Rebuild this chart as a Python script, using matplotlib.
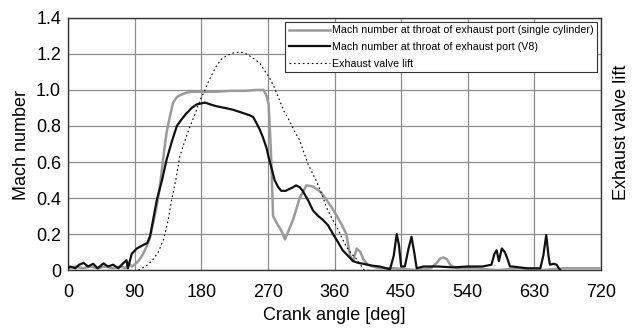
import matplotlib
matplotlib.use("Agg")
import matplotlib.pyplot as plt

plt.rcParams['font.family'] = ['Liberation Sans', 'DejaVu Sans']

# Single cylinder Mach number
single_deg = [0, 10, 20, 30, 40, 50, 60, 70, 78, 82, 86, 90, 95, 100, 105, 110, 115, 120, 124, 128, 133, 138, 142, 147, 151, 160, 169, 180, 200, 220, 240, 255, 264, 268, 271, 274, 277, 282, 288, 293, 298, 304, 313, 322, 330, 336, 342, 349, 356, 363, 370, 376, 381, 385, 390, 395, 399, 405, 412, 420, 440, 470, 490, 498, 503, 507, 512, 516, 525, 550, 580, 610, 640, 670, 700, 720]
single_val = [0.01, 0.02, 0.01, 0.02, 0.01, 0.02, 0.01, 0.02, 0.01, 0.04, 0.02, 0.03, 0.05, 0.08, 0.12, 0.17, 0.26, 0.36, 0.46, 0.6, 0.76, 0.86, 0.93, 0.96, 0.97, 0.985, 0.99, 0.99, 0.99, 0.995, 0.995, 1.0, 1.0, 0.97, 0.92, 0.67, 0.30, 0.26, 0.22, 0.17, 0.22, 0.28, 0.40, 0.47, 0.465, 0.45, 0.43, 0.39, 0.35, 0.30, 0.25, 0.2, 0.08, 0.05, 0.12, 0.1, 0.06, 0.03, 0.02, 0.01, 0.01, 0.0, 0.01, 0.04, 0.065, 0.07, 0.06, 0.03, 0.01, 0.01, 0.0, 0.01, 0.0, 0.01, 0.01, 0.01]

# V8 Mach number
v8_deg = [0, 3, 10, 15, 21, 27, 34, 40, 48, 54, 61, 68, 75, 79, 81, 86, 93, 102, 107, 111, 115, 120, 127, 133, 140, 147, 154, 160, 167, 174, 180, 185, 192, 200, 212, 223, 234, 245, 250, 254, 259, 263, 268, 272, 276, 279, 284, 288, 294, 299, 304, 308, 313, 317, 324, 331, 338, 344, 351, 358, 364, 371, 378, 385, 392, 399, 410, 421, 430, 435, 440, 444, 447, 450, 455, 460, 464, 468, 471, 480, 500, 520, 540, 560, 572, 576, 579, 582, 586, 590, 593, 597, 600, 620, 638, 642, 646, 649, 651, 656, 660, 663, 665]
v8_val = [0.01, 0.02, 0.01, 0.03, 0.04, 0.02, 0.035, 0.01, 0.037, 0.02, 0.03, 0.01, 0.04, 0.055, 0.01, 0.09, 0.12, 0.14, 0.15, 0.19, 0.28, 0.39, 0.5, 0.61, 0.71, 0.8, 0.84, 0.87, 0.9, 0.92, 0.925, 0.93, 0.92, 0.91, 0.9, 0.89, 0.875, 0.86, 0.85, 0.82, 0.78, 0.74, 0.68, 0.61, 0.55, 0.5, 0.46, 0.44, 0.44, 0.45, 0.46, 0.47, 0.46, 0.44, 0.39, 0.33, 0.3, 0.28, 0.25, 0.2, 0.16, 0.11, 0.08, 0.05, 0.04, 0.035, 0.025, 0.02, 0.01, 0.005, 0.08, 0.2, 0.14, 0.02, 0.02, 0.12, 0.185, 0.09, 0.01, 0.02, 0.02, 0.015, 0.02, 0.02, 0.03, 0.09, 0.11, 0.05, 0.12, 0.1, 0.07, 0.02, 0.02, 0.01, 0.01, 0.08, 0.195, 0.08, 0.03, 0.035, 0.03, 0.01, 0.0]

# Exhaust valve lift (drawn on the Mach-number scale)
lift_deg = [95, 100, 108, 115, 122, 129, 135, 140, 146, 151, 158, 165, 172, 178, 184, 189, 195, 200, 207, 214, 223, 232, 239, 245, 252, 259, 265, 272, 279, 286, 292, 299, 306, 313, 318, 324, 330, 336, 343, 349, 356, 363, 370, 376, 383, 390, 395, 400]
lift_val = [0.0, 0.01, 0.03, 0.06, 0.1, 0.17, 0.27, 0.39, 0.51, 0.63, 0.72, 0.8, 0.87, 0.94, 0.99, 1.04, 1.09, 1.13, 1.17, 1.19, 1.205, 1.21, 1.205, 1.19, 1.17, 1.15, 1.11, 1.07, 1.01, 0.94, 0.88, 0.83, 0.77, 0.72, 0.66, 0.59, 0.54, 0.49, 0.42, 0.35, 0.29, 0.24, 0.18, 0.13, 0.09, 0.06, 0.03, 0.0]

x_ticks = [0, 90, 180, 270, 360, 450, 540, 630, 720]
y_ticks = [0, 0.2, 0.4, 0.6, 0.8, 1.0, 1.2, 1.4]
y_labels = ['0', '0.2', '0.4', '0.6', '0.8', '1.0', '1.2', '1.4']

FS = 13

fig = plt.figure(figsize=(6.32, 3.31), dpi=100)
ax = fig.add_axes([0.1076, 0.184, 0.8434, 0.762])

ax.plot(single_deg, single_val, color='#9a9a9a', lw=1.8,
        label='Mach number at throat of exhaust port (single cylinder)', zorder=3)
ax.plot(v8_deg, v8_val, color='#111111', lw=1.6,
        label='Mach number at throat of exhaust port (V8)', zorder=4)
ax.plot(lift_deg, lift_val, color='black', lw=0.8, ls=(0, (1.5, 2.5)),
        label='Exhaust valve lift', zorder=5)

ax.set_xlim(0, 720)
ax.set_ylim(0, 1.4)
ax.set_xticks(x_ticks)
ax.set_yticks(y_ticks)
ax.set_yticklabels(y_labels)
ax.tick_params(labelsize=FS, length=0)
ax.tick_params(axis='x', pad=10)
ax.tick_params(axis='y', pad=5)
ax.grid(True, color='#8c8c8c', lw=0.9)
ax.set_axisbelow(True)
for s in ax.spines.values():
    s.set_color('#333333')
    s.set_linewidth(1.0)

ax.set_xlabel('Crank angle [deg]', fontsize=FS, labelpad=4)

ax2 = ax.twinx()
ax2.set_yticks([])
for s in ax2.spines.values():
    s.set_visible(False)

fig.text(21.5 / 632, 1 - 145 / 331, 'Mach number', rotation=90,
         ha='center', va='center', fontsize=FS)
fig.text(622 / 632, 1 - 132 / 331, 'Exhaust valve lift', rotation=90,
         ha='center', va='center', fontsize=FS)

leg = ax.legend(loc='upper right', fontsize=7.7, frameon=True, fancybox=False,
                edgecolor='#333333', framealpha=1, handlelength=3.9,
                handletextpad=0.15, borderpad=0.35, labelspacing=0.62,
                bbox_to_anchor=(0.993, 0.985), borderaxespad=0)
leg.get_frame().set_linewidth(0.8)

fig.savefig('out.png', dpi=100)
